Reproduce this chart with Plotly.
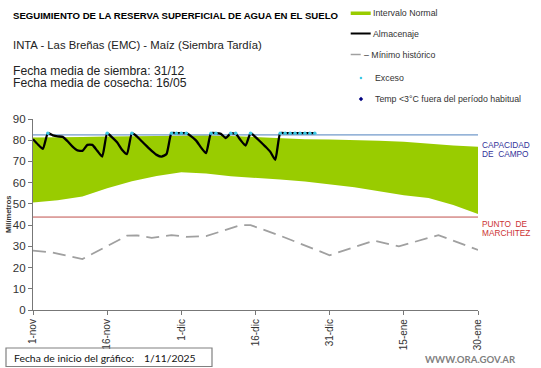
import plotly.graph_objects as go

# ---------------- data ----------------
tick_days = [0, 15, 30, 45, 60, 75, 90]
tick_labels = ["1-nov", "16-nov", "1-dic", "16-dic", "31-dic", "15-ene", "30-ene"]

band_days = [0, 5, 10, 15, 20, 25, 30, 35, 40, 45, 50, 55, 60, 65, 70, 75, 80, 85, 90]
band_low = [50.6, 51.7, 53.5, 57.4, 60.7, 63.2, 64.9, 64.3, 63.0, 62.4, 61.5, 60.5, 59.3, 57.8, 56.0, 54.1, 52.8, 49.5, 45.2]
band_high = [81.3, 81.3, 81.5, 81.7, 81.8, 82.0, 82.2, 82.2, 82.0, 81.5, 80.7, 80.5, 80.3, 80.1, 79.8, 79.3, 78.3, 77.5, 76.9]

alm_days = list(range(0, 58))
alm_values = [80.5, 78.0, 75.9, 83.3, 82.3, 81.8, 81.6, 79.5, 77.0, 75.2,
              75.0, 77.8, 77.8, 75.0, 72.3, 83.3, 81.3, 79.0, 75.5, 73.4,
              83.3, 81.8, 79.5, 77.2, 75.0, 73.1, 72.3, 73.5, 83.3, 83.3,
              83.3, 83.3, 81.8, 79.8, 76.5, 73.9, 83.3, 83.3, 83.0, 81.0,
              83.3, 83.0, 80.0, 77.5, 83.3, 81.5, 79.3, 77.0, 74.5, 70.8,
              83.3, 83.3, 83.3, 83.3, 83.3, 83.3, 83.3, 83.3]

exc_days = [3, 15, 20, 28, 29, 30, 31, 36, 37, 40, 41, 44, 50, 51, 52, 53, 54, 55, 56, 57]
exc_values = [83.3] * len(exc_days)

min_days = [0, 4, 10, 15, 19, 21, 24, 28, 31, 35, 42, 44, 50, 60, 69, 74, 82, 90]
min_values = [28.0, 27.0, 24.0, 30.0, 35.0, 35.2, 34.0, 35.3, 34.5, 34.8, 40.0, 40.0, 35.0, 25.8, 32.7, 30.0, 35.3, 28.3]

capacidad_campo = 82.5
punto_marchitez = 43.8

# ---------------- layout helpers ----------------
W, H = 541, 368
L, R, T, B = 33, 478, 119, 310


def xp(px):
    return (px - L) / (R - L)


def yp(py):
    return (B - py) / (B - T)


FONT = "Liberation Sans"

fig = go.Figure()

fig.add_trace(go.Scatter(x=band_days, y=band_low, mode="lines", line=dict(width=0, color="#99cc00"),
                         showlegend=False, hoverinfo="skip"))
fig.add_trace(go.Scatter(x=band_days, y=band_high, mode="lines", line=dict(width=0, color="#99cc00"),
                         fill="tonexty", fillcolor="#99cc00", showlegend=False, name="Intervalo Normal"))

fig.add_trace(go.Scatter(x=[0, 90], y=[capacidad_campo] * 2, mode="lines",
                         line=dict(color="#4f81bd", width=1), showlegend=False))
fig.add_trace(go.Scatter(x=[0, 90], y=[punto_marchitez] * 2, mode="lines",
                         line=dict(color="#c0504d", width=1), showlegend=False))

fig.add_trace(go.Scatter(x=min_days, y=min_values, mode="lines",
                         line=dict(color="#a0a0a0", width=1.8, dash="13px,7px"),
                         showlegend=False, name="Mínimo histórico"))

fig.add_trace(go.Scatter(x=alm_days, y=alm_values, mode="lines",
                         line=dict(color="black", width=2.3, shape="spline", smoothing=0.5),
                         showlegend=False, name="Almacenaje"))

fig.add_trace(go.Scatter(x=exc_days, y=exc_values, mode="markers",
                         marker=dict(color="#3cc8e6", size=3.5), showlegend=False, name="Exceso"))

annotations = []


def txt(px, py, text, size, color="black", anchor="left", bold=False, family=FONT):
    if bold:
        text = "<b>" + text + "</b>"
    annotations.append(dict(x=xp(px), y=yp(py), xref="paper", yref="paper", text=text,
                            showarrow=False, xanchor=anchor, yanchor="middle",
                            font=dict(size=size, color=color, family=family)))


txt(11, 15, "SEGUIMIENTO DE LA RESERVA SUPERFICIAL DE AGUA EN EL SUELO", 9.6, bold=True)
txt(11, 45, "INTA - Las Breñas (EMC) - Maíz (Siembra Tardía)", 11.3, color="#222")
txt(11, 70.5, "Fecha media de siembra: 31/12", 12.2, color="#222")
txt(11, 83, "Fecha media de cosecha: 16/05", 12.2, color="#222")

# legend
txt(371, 13, "Intervalo Normal", 8.8, color="#333")
txt(371, 34, "Almacenaje", 8.8, color="#333")
txt(362, 54.5, "– Mínimo histórico", 8.8, color="#333")
txt(372.5, 78, "Exceso", 8.8, color="#333")
txt(372.5, 99, "Temp <3°C fuera del período habitual", 8.8, color="#333")

# right labels
txt(480.5, 144.5, "CAPACIDAD", 8.3, color="#333399")
txt(480.5, 153.5, "DE  CAMPO", 8.3, color="#333399")
txt(480.5, 224, "PUNTO  DE", 8.3, color="#cc3333")
txt(480.5, 232.5, "MARCHITEZ", 8.3, color="#cc3333")

# axis title
annotations.append(dict(x=xp(8), y=yp(214), xref="paper", yref="paper", text="<b>Milímetros</b>",
                        textangle=-90, showarrow=False, xanchor="center", yanchor="middle",
                        font=dict(size=7.5, color="#333", family=FONT)))

# bottom
txt(12, 357.5, "Fecha de inicio del gráfico:", 10.4, color="#111", family="Lato")
txt(142, 357.5, "1/11/2025", 10.4, color="#111", family="Lato")
txt(518, 359.5, "WWW.ORA.GOV.AR", 9.6, color="#7f7f7f", anchor="right", bold=True, family="Lato")

shapes = [
    dict(type="rect", xref="paper", yref="paper", x0=xp(350.7), x1=xp(370.7), y0=yp(11.5), y1=yp(15),
         fillcolor="#99cc00", line=dict(width=0)),
    dict(type="line", xref="paper", yref="paper", x0=xp(350.7), x1=xp(370.7), y0=yp(33.5), y1=yp(33.5),
         line=dict(color="black", width=2)),
    dict(type="line", xref="paper", yref="paper", x0=xp(350.7), x1=xp(360.7), y0=yp(54.5), y1=yp(54.5),
         line=dict(color="#a0a0a0", width=1.5)),
    dict(type="circle", xref="paper", yref="paper", x0=xp(359.7), x1=xp(362.3), y0=yp(76.7), y1=yp(79.3),
         fillcolor="#3cc8e6", line=dict(width=0)),
    dict(type="path", xref="paper", yref="paper",
         path=f"M {xp(361)} {yp(96.8)} L {xp(363.2)} {yp(99)} L {xp(361)} {yp(101.2)} L {xp(358.8)} {yp(99)} Z",
         fillcolor="#000080", line=dict(width=0)),
    dict(type="rect", xref="paper", yref="paper", x0=xp(6), x1=xp(212), y0=yp(348), y1=yp(366.5),
         line=dict(color="#808080", width=1.2), fillcolor="rgba(0,0,0,0)"),
]

fig.update_layout(
    template="none",
    width=W, height=H,
    margin=dict(l=L, r=W - R, t=T, b=H - B, autoexpand=False),
    paper_bgcolor="white", plot_bgcolor="white",
    font=dict(family=FONT, size=11, color="#333"),
    showlegend=False,
    annotations=annotations,
    shapes=shapes,
    xaxis=dict(range=[0, 90], tickvals=tick_days, ticktext=tick_labels, tickangle=-90,
               showgrid=False, zeroline=False, showline=True, linecolor="#777", linewidth=1.2,
               ticks="outside", ticklen=4, tickcolor="#777", tickfont=dict(size=10, color="#333"),
               automargin=False, fixedrange=True),
    yaxis=dict(range=[0, 90], tickvals=list(range(0, 91, 10)), showgrid=False, zeroline=False,
               showline=True, linecolor="#777", linewidth=1.2, ticks="outside", ticklen=4,
               tickcolor="#777", tickfont=dict(size=11.5, color="#333"), automargin=False,
               fixedrange=True),
)

fig.write_html("out.html", config={"displayModeBar": False},
               post_script="document.body.style.margin='0px';document.body.style.overflow='hidden';")
